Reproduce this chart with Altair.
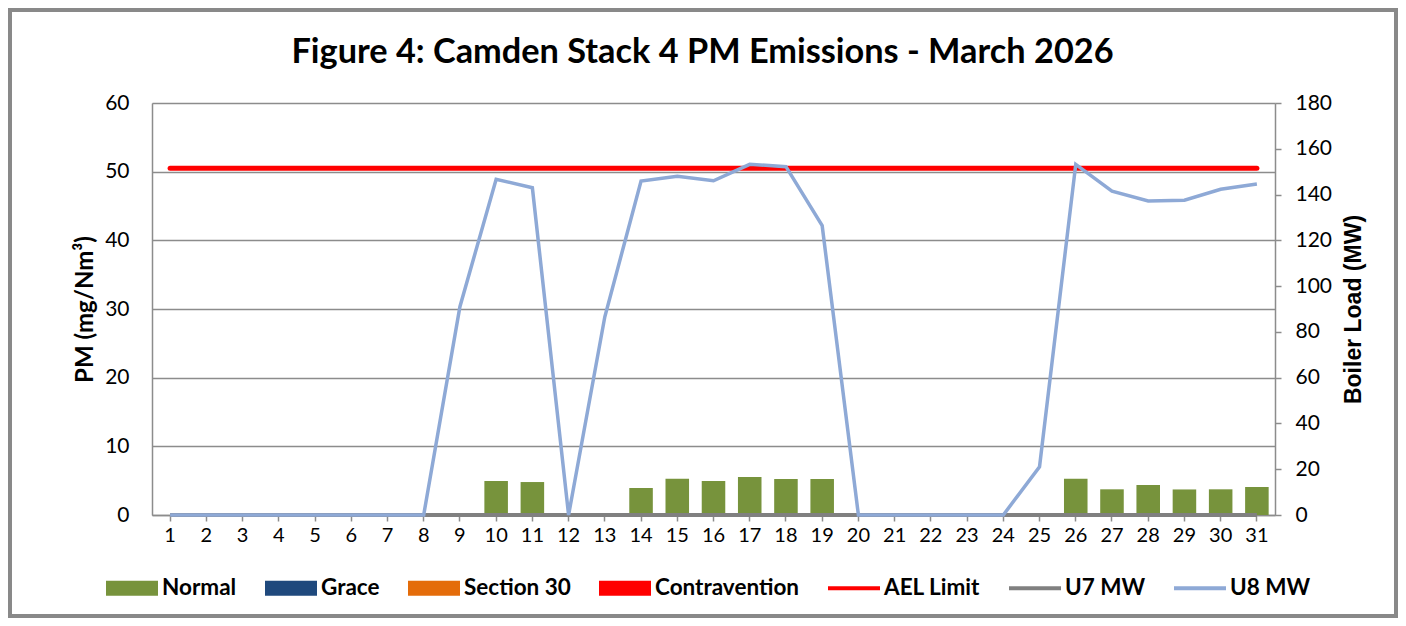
import altair as alt
import pandas as pd

days = list(range(1, 32))
normal_pm = [0, 0, 0, 0, 0, 0, 0, 0, 0, 4.95, 4.8, 0, 0, 3.93, 5.29, 4.95, 5.53, 5.24, 5.24,
             0, 0, 0, 0, 0, 0, 5.29, 3.74, 4.37, 3.72, 3.74, 4.08]
u8_mw = [0, 0, 0, 0, 0, 0, 0, 0, 91, 146.7, 143, 0, 86.6, 145.9, 148, 146, 153.2, 152.2, 126.4,
         0, 0, 0, 0, 0, 21.1, 153.2, 141.5, 137.2, 137.5, 142.3, 144.6]
u7_mw = [0] * 31
ael_limit = [50.5] * 31

series_names = ["Normal", "Grace", "Section 30", "Contravention", "AEL Limit", "U7 MW", "U8 MW"]
series_colors = ["#77933C", "#1F497D", "#E46C0A", "#FF0000", "#FF0000", "#808080", "#8EA9D6"]
pm_ticks = [0, 10, 20, 30, 40, 50, 60]
mw_ticks = [0, 20, 40, 60, 80, 100, 120, 140, 160, 180]

df = pd.DataFrame({"day": days, "normal": normal_pm, "u8": u8_mw, "u7": u7_mw, "ael": ael_limit})

BOX = "M-1,-0.29H1V0.29H-1Z"
LINE = "M-1,-0.08H1V0.08H-1Z"
series_shapes = [BOX, BOX, BOX, BOX, LINE, LINE, LINE]

W, H = 1123, 412
FONT = "Lato"
GRID = "#8c8c8c"

x_enc = alt.X("day:O", scale=alt.Scale(domain=days, paddingInner=0.35, paddingOuter=0.175),
              axis=alt.Axis(title=None, labelAngle=0, labelFont=FONT, labelFontSize=20, labelColor="black",
                            labelPadding=4, ticks=True, tickSize=6, tickColor=GRID, tickWidth=1.5,
                            domainColor=GRID, domainWidth=1.5, grid=False, orient="bottom"))

bars = alt.Chart().mark_bar(color="#77933C").encode(
    x=x_enc,
    y=alt.Y("normal:Q", scale=alt.Scale(domain=[0, 60]),
            axis=alt.Axis(values=pm_ticks, orient="left", title="PM (mg/Nm³)", titleFont=FONT,
                          titleFontSize=24, titleFontWeight="bold", titleColor="black", titleX=-67,
                          titleBaseline="middle", labelFont=FONT, labelFontSize=21, labelColor="black",
                          labelPadding=23, ticks=False, tickSize=0, domainColor=GRID, domainWidth=1.5,
                          grid=True, gridColor=GRID, gridWidth=1.5)),
)

ael = alt.Chart().mark_line(color="#FF0000", strokeWidth=5, strokeCap="round").encode(
    x=x_enc,
    y=alt.Y("ael:Q", scale=alt.Scale(domain=[0, 60]), axis=None),
)

u7 = alt.Chart().mark_line(color="#808080", strokeWidth=4).encode(
    x=x_enc,
    y=alt.Y("u7:Q", scale=alt.Scale(domain=[0, 180]), axis=None),
)

u8 = alt.Chart().mark_line(color="#8EA9D6", strokeWidth=3.5).encode(
    x=x_enc,
    y=alt.Y("u8:Q", scale=alt.Scale(domain=[0, 180]),
            axis=alt.Axis(values=mw_ticks, orient="right", title="Boiler Load (MW)",
                          titleFont="Liberation Sans", titleFontSize=23, titleFontWeight="bold",
                          titleColor="black", titleAngle=270, titleX=78, titleBaseline="middle",
                          labelFont=FONT, labelFontSize=21, labelColor="black", labelPadding=14,
                          ticks=True, tickSize=6, tickColor=GRID, tickWidth=1.5,
                          domainColor=GRID, domainWidth=1.5, grid=False)),
)

leg = dict(title=None, orient="none", legendX=-46, legendY=459, direction="horizontal", columns=7,
           columnPadding=28, symbolSize=2704, symbolStrokeWidth=0, labelOffset=4, labelFont=FONT,
           labelFontSize=22.5, labelFontWeight="bold", labelColor="black", padding=0, labelLimit=300)

legend_layer = alt.Chart(alt.Data(values=[{"s": n} for n in series_names])).transform_filter(
    "false"
).mark_point(filled=True, size=2704, opacity=1).encode(
    color=alt.Color("s:N", scale=alt.Scale(domain=series_names, range=series_colors),
                    legend=alt.Legend(**leg)),
    shape=alt.Shape("s:N", scale=alt.Scale(domain=series_names, range=series_shapes),
                    legend=alt.Legend(**leg)),
)

frame = alt.Chart(alt.Data(values=[{}])).mark_rect(fill=None, stroke="#898989", strokeWidth=4).encode(
    x=alt.value(-142), x2=alt.value(W + 121), y=alt.value(-93), y2=alt.value(H + 101)
)

chart = alt.layer(bars, ael, u7, u8, legend_layer, frame, data=df).resolve_scale(
    y="independent"
).properties(
    width=W, height=H,
    title=alt.TitleParams("Figure 4: Camden Stack 4 PM Emissions - March 2026", font=FONT, fontSize=34.3,
                          fontWeight="bold", color="black", anchor="middle", dx=-11, offset=0, dy=89,
                          baseline="alphabetic"),
    autosize=alt.AutoSizeParams(type="none"),
    padding={"left": 144, "top": 95, "right": 123, "bottom": 103},
).configure_view(stroke=None).configure(background="white")

chart.save("out.html", embed_options={"renderer": "svg", "actions": False})
